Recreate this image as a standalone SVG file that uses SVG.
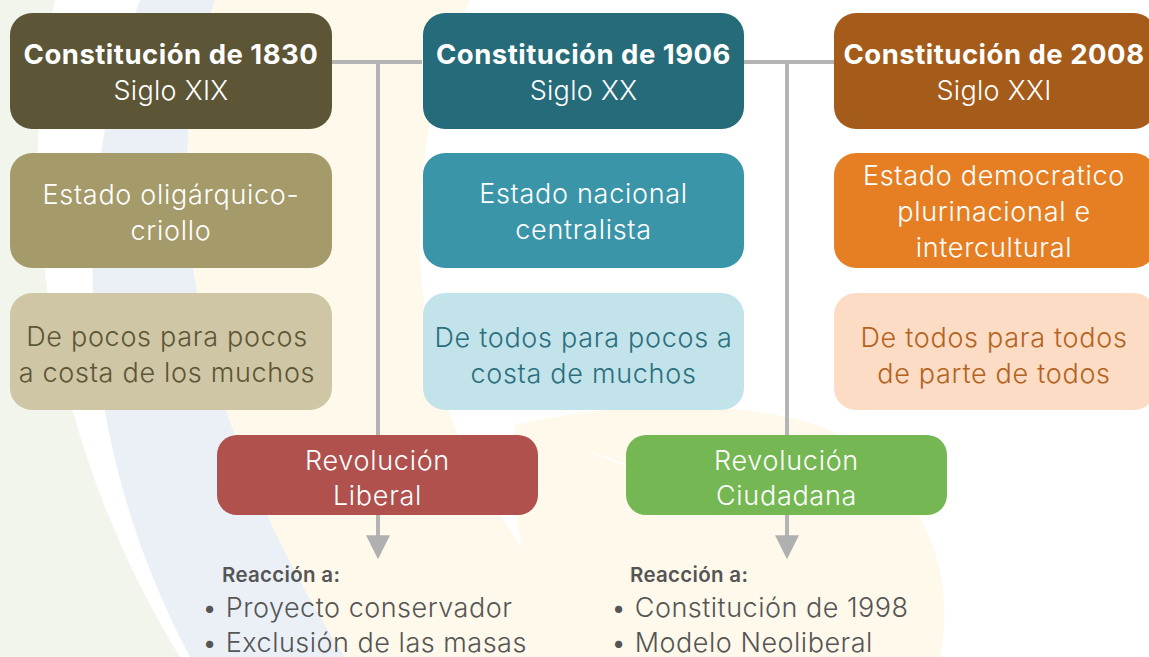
<svg xmlns="http://www.w3.org/2000/svg" width="1149" height="657" viewBox="0 0 1149 657">
<style>
.t{font-family:Inter,"Noto Sans","Liberation Sans",sans-serif;text-anchor:middle}
.h{font-size:27.5px;font-weight:700;fill:#fff;letter-spacing:0.5px}
.s{font-size:27px;font-weight:300;fill:#fff;letter-spacing:0.3px}
.b{font-size:27px;font-weight:300;letter-spacing:0.7px}
.w{fill:#fff}
.r{font-family:Inter,"Noto Sans","Liberation Sans",sans-serif;font-size:20.5px;font-weight:600;fill:#555;letter-spacing:0.3px}
.l{font-family:Inter,"Noto Sans","Liberation Sans",sans-serif;font-size:27px;font-weight:300;fill:#555;letter-spacing:0.5px}
.c{stroke:#b4b4b4;stroke-width:4;fill:none}
</style>
<defs>
<marker id="ah" viewBox="0 0 10 10" refX="2" refY="5" markerWidth="6" markerHeight="6" markerUnits="strokeWidth" orient="auto">
<path d="M0,0 L10,5 L0,10 Z" fill="#b0b0b0"/>
</marker>
</defs>
<rect width="1149" height="657" fill="#fff"/>
<g id="background">
<path d="M0,0 L55,0 C15,170 40,430 180,657 L0,657 Z" fill="#f1f5ec"/>
<path d="M140,0 L215,0 C150,190 200,430 345,657 L190,657 C70,430 70,190 140,0 Z" fill="#ebf0f7"/>
<path d="M215,0 L470,0 C410,120 400,300 460,440 C500,530 560,600 610,657 L345,657 C200,430 150,190 215,0 Z" fill="#fef9ea"/>
<path d="M515,425 C620,400 760,400 830,430 C910,470 960,560 940,657 L560,657 C525,580 505,500 515,425 Z" fill="#fef9ea"/>
<path d="M585,450 C640,465 690,495 720,520 C680,492 635,468 585,450 Z" fill="#fff"/>
</g>
<g id="connectors">
<path class="c" d="M332,62 H422 M744,62 H834"/>
<path class="c" d="M378,62 V540" marker-end="url(#ah)"/>
<path class="c" d="M787,62 V540" marker-end="url(#ah)"/>
</g>
<g id="c1830">
<rect x="10" y="13" width="322" height="116" rx="22" fill="#5c5536"/>
<text class="t h" x="171" y="64">Constitución de 1830</text>
<text class="t s" x="171" y="100">Siglo XIX</text>
</g>
<g id="c1906">
<rect x="423" y="13" width="321" height="116" rx="22" fill="#256b79"/>
<text class="t h" x="583.5" y="64">Constitución de 1906</text>
<text class="t s" x="583.5" y="100">Siglo XX</text>
</g>
<g id="c2008">
<rect x="834" y="13" width="322" height="116" rx="22" fill="#a55b1a"/>
<text class="t h" x="994" y="64">Constitución de 2008</text>
<text class="t s" x="994" y="100">Siglo XXI</text>
</g>
<g id="e1830">
<rect x="10" y="153" width="322" height="115" rx="22" fill="#a59a69"/>
<text class="t b w" x="171" y="204">Estado oligárquico-</text>
<text class="t b w" x="171" y="240">criollo</text>
</g>
<g id="e1906">
<rect x="423" y="153" width="321" height="115" rx="22" fill="#3b95a8"/>
<text class="t b w" x="583.5" y="203">Estado nacional</text>
<text class="t b w" x="583.5" y="239">centralista</text>
</g>
<g id="e2008">
<rect x="834" y="153" width="322" height="115" rx="22" fill="#e67f23"/>
<text class="t b w" x="994" y="185">Estado democratico</text>
<text class="t b w" x="994" y="221">plurinacional e</text>
<text class="t b w" x="994" y="257">intercultural</text>
</g>
<g id="p1830">
<rect x="10" y="293" width="322" height="117" rx="22" fill="#cfc6a5"/>
<text class="t b" x="167" y="346" fill="#5c5536">De pocos para pocos</text>
<text class="t b" x="167" y="382" fill="#5c5536">a costa de los muchos</text>
</g>
<g id="p1906">
<rect x="423" y="293" width="321" height="117" rx="22" fill="#c3e3ea"/>
<text class="t b" x="583.5" y="347" fill="#2a6f7e">De todos para pocos a</text>
<text class="t b" x="583.5" y="383" fill="#2a6f7e">costa de muchos</text>
</g>
<g id="p2008">
<rect x="834" y="293" width="322" height="117" rx="22" fill="#fcdcc4"/>
<text class="t b" x="994" y="347" fill="#b4631e">De todos para todos</text>
<text class="t b" x="994" y="383" fill="#b4631e">de parte de todos</text>
</g>
<g id="rliberal">
<rect x="217" y="435" width="321" height="80" rx="20" fill="#b0514d"/>
<text class="t b w" x="377.5" y="470">Revolución</text>
<text class="t b w" x="377.5" y="505">Liberal</text>
</g>
<g id="rciudadana">
<rect x="626" y="435" width="321" height="80" rx="20" fill="#75b753"/>
<text class="t b w" x="786.5" y="470">Revolución</text>
<text class="t b w" x="786.5" y="505">Ciudadana</text>
</g>
<g id="reaccion1">
<text class="r" x="222" y="582">Reacción a:</text>
<text class="l" x="202" y="617">• Proyecto conservador</text>
<text class="l" x="202" y="652">• Exclusión de las masas</text>
</g>
<g id="reaccion2">
<text class="r" x="630" y="582">Reacción a:</text>
<text class="l" x="611" y="617">• Constitución de 1998</text>
<text class="l" x="611" y="652">• Modelo Neoliberal</text>
</g>
</svg>
